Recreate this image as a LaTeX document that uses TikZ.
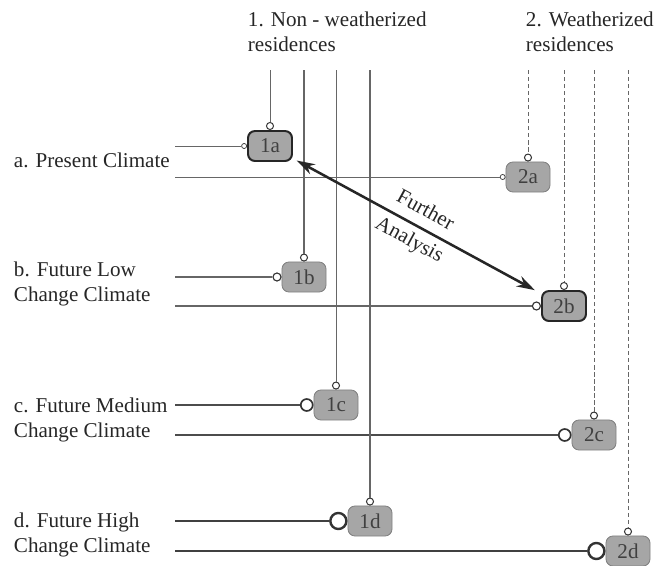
\documentclass[tikz,border=0pt]{standalone}
\usepackage{fontspec}
\setmainfont{Liberation Serif}
\usetikzlibrary{calc, positioning}
\usetikzlibrary{arrows.meta}

\tikzset{
  case/.style={draw=black!50, fill=black!35, line width=0.6pt, rounded corners=5pt,
    minimum width=1.1cm, minimum height=0.75cm, inner sep=0pt, text=black!75},
  casekey/.style={case, draw=black!85, line width=1.4pt},
  port/.style={circle, draw=black!80, fill=white, inner sep=0pt, minimum size=#1},
  feed/.style={line width=#1, black!60},
  rowtext/.style={anchor=west, align=left, text=black!85},
}

\begin{document}
\begin{tikzpicture}[x=0.025cm, y=-0.025cm, line cap=butt,
    font=\fontsize{15}{17.7}\selectfont]
\useasboundingbox (0,0) rectangle (667,566);
\def\leftend{175}
\def\topend{70}

% Group and climate headings
\node[rowtext] (head1) at (243,32) {1. Non - weatherized\\residences};
\node[rowtext] (head2) at (521,32) {2. Weatherized\\residences};
\node[rowtext] (rowa) at (9,160) {a. Present Climate};
\node[rowtext] (rowb) at (9,284) {b. Future Low\\Change Climate};
\node[rowtext] (rowc) at (9,420) {c. Future Medium\\Change Climate};
\node[rowtext] (rowd) at (9,535) {d. Future High\\Change Climate};

% Cases
\node[casekey] (c1a) at (270,146) {1a};
\node[case] (c2a) at (528,177) {2a};
\node[case] (c1b) at (304,277) {1b};
\node[casekey] (c2b) at (564,306) {2b};
\node[case] (c1c) at (336,405) {1c};
\node[case] (c2c) at (594,435) {2c};
\node[case] (c1d) at (370,521) {1d};
\node[case] (c2d) at (628,551) {2d};

% Ports on the left (climate) and on top (residence)
\node[port=3.6pt, line width=0.5pt, anchor=east] (w1a) at (c1a.west) {};
\node[port=3.6pt, line width=0.5pt, anchor=east] (w2a) at (c2a.west) {};
\node[port=5.7pt, line width=0.8pt, anchor=east] (w1b) at (c1b.west) {};
\node[port=5.7pt, line width=0.8pt, anchor=east] (w2b) at (c2b.west) {};
\node[port=8.5pt, line width=1.2pt, anchor=east] (w1c) at (c1c.west) {};
\node[port=8.5pt, line width=1.2pt, anchor=east] (w2c) at (c2c.west) {};
\node[port=11.4pt, line width=1.7pt, anchor=east] (w1d) at (c1d.west) {};
\node[port=11.4pt, line width=1.7pt, anchor=east] (w2d) at (c2d.west) {};
\foreach \c in {1a,2a,1b,2b,1c,2c,1d,2d}
  \node[port=5pt, line width=0.7pt, anchor=south] (n\c) at (c\c.north) {};

% Climate feeds
\coordinate (h1a) at (\leftend,146);
\coordinate (h2a) at (\leftend,177);
\coordinate (h1b) at (\leftend,277);
\coordinate (h2b) at (\leftend,306);
\coordinate (h1c) at (\leftend,405);
\coordinate (h2c) at (\leftend,435);
\coordinate (h1d) at (\leftend,521);
\coordinate (h2d) at (\leftend,551);
\draw[feed=0.5pt] (h1a) -- (w1a);
\draw[feed=0.5pt] (h2a) -- (w2a);
\draw[feed=0.8pt] (h1b) -- (w1b);
\draw[feed=0.8pt] (h2b) -- (w2b);
\draw[feed=1.1pt, black!70] (h1c) -- (w1c);
\draw[feed=1.1pt, black!70] (h2c) -- (w2c);
\draw[feed=1.5pt, black!75] (h1d) -- (w1d);
\draw[feed=1.5pt, black!75] (h2d) -- (w2d);

% Residence feeds, dashed for the weatherized group
\foreach \c/\w in {1a/0.6pt,1b/0.8pt,1c/0.6pt,1d/0.9pt}
  \draw[feed=\w] (c\c |- 0,\topend) -- (n\c);
\foreach \c in {2a,2b,2c,2d}
  \draw[feed=0.6pt, dash pattern=on 3pt off 2pt] (c\c |- 0,\topend) -- (n\c);

% Comparison
\draw[{Stealth[length=13pt, width=8pt]}-{Stealth[length=13pt, width=8pt]},
  line width=1.8pt, black!85, shorten <=3pt, shorten >=5pt] (c1a) -- (c2b)
  node[midway, sloped, align=center, text=black!85] (further) {Further\\[6pt]Analysis};
\end{tikzpicture}
\end{document}
